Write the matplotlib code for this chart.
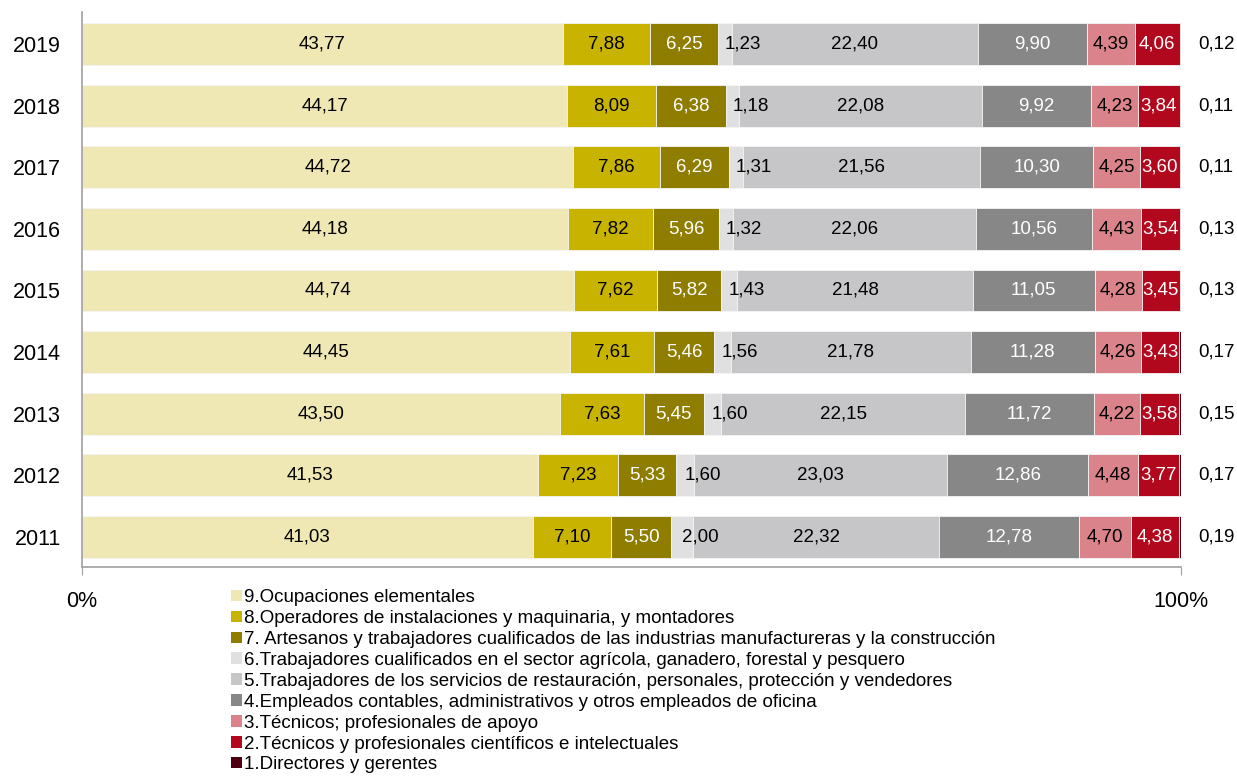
import numpy as np
import matplotlib.pyplot as plt
from matplotlib.patches import Patch

plt.rcParams['font.family'] = ['Liberation Sans', 'DejaVu Sans']

years = ['2011', '2012', '2013', '2014', '2015', '2016', '2017', '2018', '2019']

categorias = [
    '9.Ocupaciones elementales',
    '8.Operadores de instalaciones y maquinaria, y montadores',
    '7. Artesanos y trabajadores cualificados de las industrias manufactureras y la construcción',
    '6.Trabajadores cualificados en el sector agrícola, ganadero, forestal y pesquero',
    '5.Trabajadores de los servicios de restauración, personales, protección y vendedores',
    '4.Empleados contables, administrativos y otros empleados de oficina',
    '3.Técnicos; profesionales de apoyo',
    '2.Técnicos y profesionales científicos e intelectuales',
    '1.Directores y gerentes',
]

# one list per group, 2011 -> 2019
g9 = [41.03, 41.53, 43.50, 44.45, 44.74, 44.18, 44.72, 44.17, 43.77]
g8 = [7.10, 7.23, 7.63, 7.61, 7.62, 7.82, 7.86, 8.09, 7.88]
g7 = [5.50, 5.33, 5.45, 5.46, 5.82, 5.96, 6.29, 6.38, 6.25]
g6 = [2.00, 1.60, 1.60, 1.56, 1.43, 1.32, 1.31, 1.18, 1.23]
g5 = [22.32, 23.03, 22.15, 21.78, 21.48, 22.06, 21.56, 22.08, 22.40]
g4 = [12.78, 12.86, 11.72, 11.28, 11.05, 10.56, 10.30, 9.92, 9.90]
g3 = [4.70, 4.48, 4.22, 4.26, 4.28, 4.43, 4.25, 4.23, 4.39]
g2 = [4.38, 3.77, 3.58, 3.43, 3.45, 3.54, 3.60, 3.84, 4.06]
g1 = [0.19, 0.17, 0.15, 0.17, 0.13, 0.13, 0.11, 0.11, 0.12]

series = [g9, g8, g7, g6, g5, g4, g3, g2, g1]
colores = ['#efe8b4', '#c8b400', '#8f7d00', '#e0e0e0', '#c6c6c8',
           '#878788', '#da838a', '#b1081e', '#4a0010']
txt_col = ['black', 'black', 'white', 'black', 'black',
           'white', 'black', 'white', None]
# small shift for the thin group-6 labels so they sit beside the segment
shift = [0, 0, 0, 1.6, 0, 0, 0, 0, 0]

fig = plt.figure(figsize=(12.37, 7.78), dpi=100)
ax = fig.add_axes([0.0663, 0.271, 0.8884, 0.7136])

y = np.arange(len(years))
left = np.zeros(len(years))
for vals, col, tc, dx in zip(series, colores, txt_col, shift):
    vals = np.array(vals)
    ax.barh(y, vals, left=left, height=0.68, color=col,
            edgecolor='#f4f4f4', linewidth=0.6)
    for yi, l, v in zip(y, left, vals):
        s = f'{v:.2f}'.replace('.', ',')
        if tc is None:
            ax.text(103.2, yi, s, ha='center', va='center', fontsize=13.5)
        else:
            ax.text(l + v / 2 + dx, yi, s, ha='center', va='center',
                    fontsize=13.5, color=tc)
    left += vals

ax.set_xlim(0, 100)
ax.set_ylim(-0.49, 8.52)
ax.set_yticks(y)
ax.set_yticklabels(years, fontsize=15.5)
ax.tick_params(axis='y', length=0, pad=15)
ax.set_xticks([0, 100])
ax.set_xticklabels(['0%', '100%'], fontsize=15.5)
ax.tick_params(axis='x', length=6, color='#a0a0a0', pad=11)
for side in ['top', 'right']:
    ax.spines[side].set_visible(False)
for side in ['left', 'bottom']:
    ax.spines[side].set_color('#a0a0a0')
    ax.spines[side].set_linewidth(1.2)

handles = [Patch(facecolor=c, edgecolor='none') for c in colores]
fig.legend(handles, categorias, loc='upper left',
           bbox_to_anchor=(0.187, 0.243), frameon=False, fontsize=13.5,
           handlelength=0.55, handleheight=0.55, handletextpad=0.15,
           labelspacing=0.21, borderpad=0, borderaxespad=0)

fig.savefig('out.png', dpi=100)
